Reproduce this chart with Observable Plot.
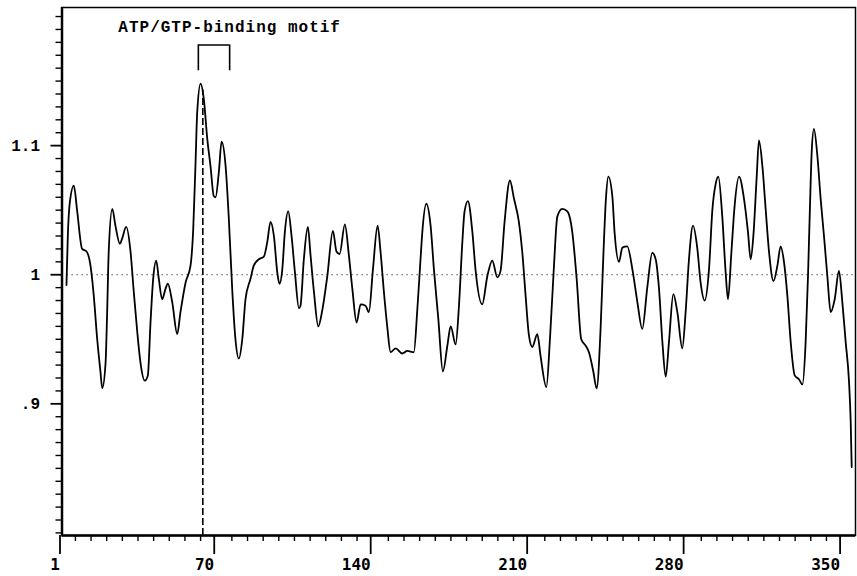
<!DOCTYPE html>
<html>
<head>
<meta charset="utf-8">
<script src="https://cdn.jsdelivr.net/npm/d3@7"></script>
<script src="https://cdn.jsdelivr.net/npm/@observablehq/plot@0.6"></script>
<style>
  html, body { margin: 0; padding: 0; background: #fff; }
</style>
</head>
<body>
<div id="chart"></div>
<script>
// Residue positions and profile values
const residue = [
  3.0,3.6,4.5,6.3,7.8,10.0,12.0,13.75,15.2,16.75,
  18.2,19.0,20.5,21.2,21.9,23.5,24.9,26.9,27.9,29.7,
  31.65,33.1,34.65,36.1,38.05,39.4,40.6,41.8,43.15,44.3,
  45.8,47.3,48.35,50.3,52.55,54.0,56.3,58.5,59.7,60.75,
  61.5,63.0,64.45,66.0,67.45,68.9,69.7,71.2,72.4,74.2,
  75.65,77.2,78.6,80.1,81.65,83.1,85.35,86.8,89.1,91.3,
  92.8,94.3,95.8,97.3,98.3,99.55,100.7,102.2,103.7,105.2,
  107.0,107.7,109.2,111.0,112.2,113.7,115.65,117.4,119.7,122.2,
  123.8,125.2,127.55,129.35,130.9,132.8,134.6,136.8,138.3,140.1,
  142.2,143.5,145.0,146.5,148.0,150.25,153.2,155.5,158.4,160.0,
  161.4,162.2,164.0,165.9,167.4,169.35,171.4,173.4,174.9,177.1,
  178.6,180.1,181.1,182.6,184.6,186.0,189.0,191.3,193.5,195.75,
  197.2,199.0,201.4,203.2,205.4,206.9,208.4,209.9,211.4,213.65,
  215.1,217.7,219.3,221.1,222.6,224.8,227.1,229.3,231.25,233.3,
  235.3,236.75,238.7,240.2,242.0,243.2,244.35,245.4,247.2,248.25,
  250.2,251.7,253.9,256.2,258.4,260.6,262.9,265.1,266.6,268.1,
  269.6,271.1,272.55,274.5,276.3,278.5,280.0,281.5,283.3,285.25,
  286.7,288.5,290.45,292.0,293.4,294.65,296.4,297.9,298.95,300.5,
  301.9,303.9,306.1,307.9,309.1,310.3,311.8,312.8,314.35,315.8,
  317.3,319.3,321.05,322.5,324.0,325.5,327.0,328.8,330.7,332.25,
  333.7,334.75,335.6,336.4,337.4,338.95,340.4,341.9,343.4,344.9,
  346.7,348.6,350.1,351.6,353.1,353.85,354.3
];
const value = [
  0.992,1.030,1.056,1.069,1.049,1.020,1.018,1.007,0.984,0.950,
  0.925,0.912,0.932,0.971,1.018,1.051,1.038,1.024,1.028,1.037,
  1.018,0.987,0.956,0.932,0.918,0.922,0.963,0.997,1.011,0.997,
  0.981,0.989,0.993,0.979,0.954,0.971,0.994,1.007,1.035,1.087,
  1.126,1.148,1.136,1.105,1.084,1.061,1.060,1.080,1.103,1.084,
  1.043,0.987,0.950,0.935,0.950,0.981,0.997,1.007,1.012,1.014,
  1.025,1.041,1.030,1.002,0.993,1.004,1.033,1.049,1.030,1.002,
  0.974,0.976,1.012,1.037,1.015,0.987,0.960,0.972,0.999,1.034,
  1.018,1.016,1.039,1.015,0.989,0.963,0.977,0.976,0.971,1.004,
  1.038,1.018,0.987,0.960,0.940,0.943,0.939,0.941,0.940,0.974,
  1.012,1.033,1.055,1.038,1.004,0.966,0.925,0.945,0.960,0.946,
  0.976,1.025,1.049,1.057,1.033,1.004,0.977,0.999,1.011,0.998,
  1.003,1.041,1.073,1.059,1.041,1.018,0.984,0.953,0.944,0.954,
  0.937,0.913,0.950,1.007,1.045,1.051,1.049,1.033,0.997,0.950,
  0.945,0.940,0.925,0.912,0.960,1.015,1.059,1.076,1.061,1.032,
  1.010,1.021,1.022,1.004,0.979,0.958,0.991,1.017,1.012,0.989,
  0.948,0.921,0.948,0.985,0.971,0.943,0.971,1.012,1.038,1.020,
  0.994,0.980,1.004,1.051,1.070,1.076,1.045,1.002,0.981,1.018,
  1.053,1.076,1.059,1.033,1.012,1.030,1.076,1.104,1.084,1.051,
  1.018,0.995,1.007,1.022,1.010,0.984,0.948,0.922,0.919,0.915,
  0.948,0.999,1.051,1.095,1.113,1.092,1.059,1.030,0.999,0.971,
  0.981,1.003,0.979,0.948,0.917,0.886,0.851
];

// Axis tick labels
const xTickLabels = [1, 70, 140, 210, 280, 350];
const yTickLabels = [0.9, 1, 1.1];

// Annotation
const motifLabel = "ATP/GTP-binding motif";
const motifRange = [62, 76];      // bracket ends (residues)
const motifBracketY = [1.158, 1.178];
const motifLabelY = 1.192;
const motifMarker = 64;           // dashed line residue
const motifMarkerTop = 1.143;
const baseline = 1;

const xDomain = [1, 356];
const yDomain = [0.798, 1.207];

const profile = residue.map((r, i) => ({ r, v: value[i] }));
const xMinor = d3.range(7, 357, 7).filter(d => d % 70 !== 0);
const yMinor = d3.range(80, 121).map(d => d / 100).filter(d => !yTickLabels.some(t => Math.abs(t - d) < 1e-9));

const chart = Plot.plot({
  width: 857,
  height: 576,
  marginLeft: 61.5,
  marginRight: 2,
  marginTop: 7,
  marginBottom: 41,
  style: { background: "white", color: "black", overflow: "visible" },
  x: { domain: xDomain, label: null },
  y: { domain: yDomain, label: null },
  marks: [
    Plot.ruleY([baseline], { stroke: "#222", strokeWidth: 1, strokeDasharray: "1.2,3.8" }),
    Plot.ruleX([motifMarker], { y1: yDomain[0], y2: motifMarkerTop, stroke: "black", strokeWidth: 1.6, strokeDasharray: "7,3" }),
    Plot.line(profile, { x: "r", y: "v", stroke: "black", strokeWidth: 1.8, strokeLinejoin: "round", curve: "monotone-x" }),
    Plot.frame({ stroke: "black", strokeWidth: 1.5 }),
    Plot.ruleX([xDomain[0]], { stroke: "black", strokeWidth: 2.5 }),
    Plot.ruleY([yDomain[0]], { stroke: "black", strokeWidth: 2.5 }),
    // bracket
    Plot.ruleX(motifRange, { y1: motifBracketY[0], y2: motifBracketY[1], stroke: "black", strokeWidth: 1.6 }),
    Plot.ruleY([motifBracketY[1]], { x1: motifRange[0], x2: motifRange[1], stroke: "black", strokeWidth: 1.6 }),
    Plot.text([motifLabel], {
      x: motifRange[1], y: motifLabelY, text: d => d,
      fontFamily: "Liberation Mono", fontWeight: "bold", fontSize: 16,
      textAnchor: "middle", fill: "black"
    }),
    // axes
    Plot.axisX({ ticks: xMinor, tickSize: 6, text: null, label: null, strokeWidth: 1.4, anchor: "bottom" }),
    Plot.axisX({
      ticks: xTickLabels, tickSize: 19, tickPadding: 4, anchor: "bottom",
      tickFormat: d => String(d), textAnchor: "end", dx: -2, strokeWidth: 1.8,
      fontFamily: "DejaVu Sans Mono", fontWeight: "bold", fontSize: 16, label: null
    }),
    Plot.axisY({ ticks: yMinor, tickSize: 6, text: null, label: null, strokeWidth: 1.4, anchor: "left" }),
    Plot.axisY({
      ticks: yTickLabels, tickSize: 11, tickPadding: 11, anchor: "left",
      tickFormat: d => String(d).replace(/^0/, ""), strokeWidth: 1.8,
      fontFamily: "Liberation Mono", fontWeight: "bold", fontSize: 16, label: null
    })
  ]
});

document.getElementById("chart").appendChild(chart);
chart.querySelectorAll("text").forEach(t => {
  if (t.textContent === motifLabel) t.setAttribute("letter-spacing", "1px");
});
</script>
</body>
</html>
